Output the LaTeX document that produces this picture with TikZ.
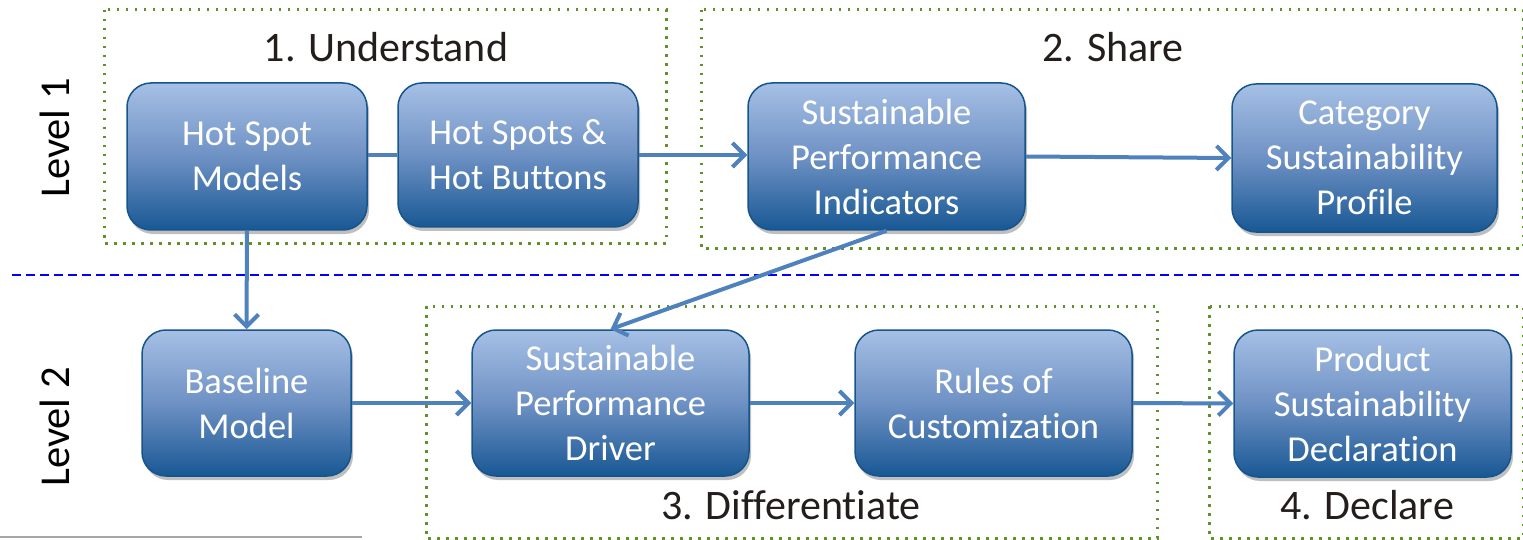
\documentclass[tikz,border=0pt]{standalone}
\usepackage{fontspec}
\setmainfont{Carlito}[Ligatures=CommonOff]
\usetikzlibrary{arrows.meta,shadows}
\definecolor{boxtop}{RGB}{166,192,229}
\definecolor{boxmid}{RGB}{110,145,196}
\definecolor{boxbot}{RGB}{24,88,148}
\definecolor{boxline}{RGB}{22,84,140}
\definecolor{arrowc}{RGB}{79,129,189}
\definecolor{framec}{RGB}{96,146,40}
\definecolor{titlec}{RGB}{35,30,28}
\tikzset{
  box/.style={rounded corners=24pt, draw=boxline, line width=1.5pt,
    top color=boxtop, bottom color=boxbot, middle color=boxmid,
    text=white, align=center, font=\fontsize{36.5}{45}\selectfont,
    drop shadow={shadow xshift=2pt, shadow yshift=-4pt, opacity=0.25, fill=black}},
  conn/.style={draw=arrowc, line width=4pt},
  arr/.style={conn, -{Straight Barb[length=12pt, width=24pt, line width=4pt]}},
  frame/.style={draw=framec, line width=3pt, dash pattern=on 2.5pt off 6.5pt},
  title/.style={text=titlec, font=\fontsize{42}{48}\selectfont},
  level/.style={text=black, font=\fontsize{42.5}{48}\selectfont, rotate=90}
}
\begin{document}
\begin{tikzpicture}[x=1pt,y=-1pt]
\useasboundingbox (0,0) rectangle (1523,540);
% frames
\draw[frame] (104,10) rectangle (666,243);
\draw[frame] (701,10) rectangle (1523,248);
\draw[frame] (426,306) rectangle (1157,538);
\draw[frame] (1209,306) rectangle (1523,538);
% level divider
\draw[blue, line width=2pt, dash pattern=on 9pt off 5pt] (12,275) -- (1523,275);
\draw[gray!70, line width=1.5pt] (0,537) -- (362,537);
% titles
\node[title] (t1) at (386,47) {1. Understand};
\node[title] (t2) at (1113,47) {2. Share};
\node[title] (t3) at (791,505) {3. Differentiate};
\node[title] (t4) at (1367,505) {4. Declare};
\node[level] (l1) at (55,138) {Level 1};
\node[level] (l2) at (55,427) {Level 2};
% boxes
\node[box, minimum width=240pt, minimum height=147pt] (hsm) at (247,156.5) {Hot Spot\\Models};
\node[box, minimum width=240pt, minimum height=144pt] (hsb) at (518,155) {Hot Spots \&\\Hot Buttons};
\node[box, minimum width=277pt, minimum height=147pt] (spi) at (886.5,156.5) {Sustainable\\Performance\\Indicators};
\node[box, minimum width=265pt, minimum height=148pt] (csp) at (1364.5,158) {Category\\Sustainability\\Profile};
\node[box, minimum width=209pt, minimum height=146pt] (bm) at (246.5,403) {Baseline\\Model};
\node[box, minimum width=277pt, minimum height=146pt] (spd) at (610.5,403) {Sustainable\\Performance\\Driver};
\node[box, minimum width=277pt, minimum height=146pt] (roc) at (993.5,403) {Rules of\\Customization};
\node[box, minimum width=277pt, minimum height=147pt] (psd) at (1372.5,403.5) {Product\\Sustainability\\Declaration};
% connectors
\draw[conn] (hsm.east |- hsb.west) -- (hsb.west);
\draw[arr] (hsb.east) -- (spi.west |- hsb.east);
\draw[arr] (spi.east) -- (csp.west);
\draw[arr] (hsm.south) -- (bm.north);
\draw[arr] (spi.south) -- (spd.north);
\draw[arr] (bm.east) -- (spd.west);
\draw[arr] (spd.east) -- (roc.west);
\draw[arr] (roc.east) -- (psd.west);
\end{tikzpicture}
\end{document}
